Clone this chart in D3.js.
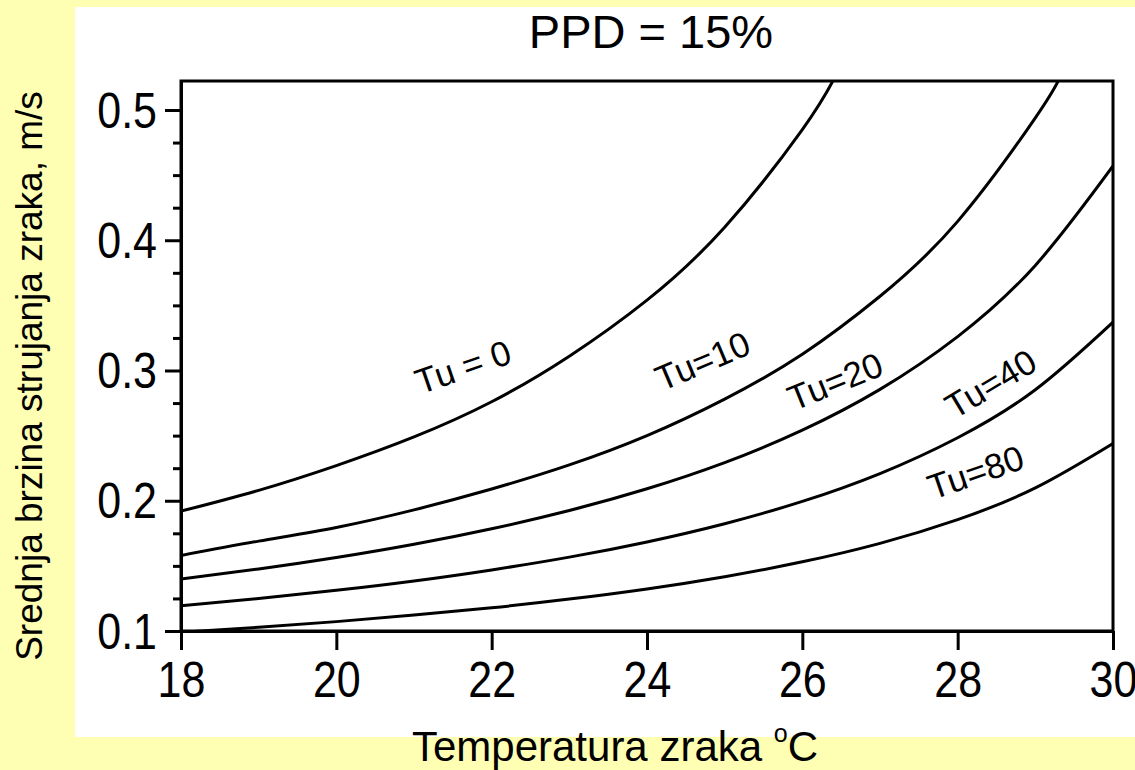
<!DOCTYPE html>
<html>
<head>
<meta charset="utf-8">
<script src="https://cdn.jsdelivr.net/npm/d3@7"></script>
<style>
  html, body { margin: 0; padding: 0; background: #FFFFB4; }
  svg { display: block; }
  text { font-family: "Liberation Sans", Arial, sans-serif; fill: #000; }
  .axis path, .axis line { stroke: #000; stroke-width: 3; }
  .curve { fill: none; stroke: #000; stroke-width: 3; stroke-linejoin: round; }
</style>
</head>
<body>
<svg id="chart" width="1135" height="770"></svg>
<script>
// Draught-rating limit curves (PPD = 15 %): mean air speed vs. air temperature
// for several turbulence intensities Tu (%).
const chartTitle = "PPD = 15%";
const xTitle = "Temperatura zraka ";
const yTitle = "Srednja brzina strujanja zraka, m/s";

const xTicks = [18, 20, 22, 24, 26, 28, 30];
const yTicks = [0.1, 0.2, 0.3, 0.4, 0.5];
const yMinorTicks = [0.125, 0.15, 0.175, 0.225, 0.25, 0.275, 0.325, 0.35, 0.375, 0.425, 0.45, 0.475, 0.5];

const tempsTu0  = [18, 19, 20, 21, 22, 23, 24, 25, 26, 26.4];
const speedTu0  = [0.192, 0.208, 0.227, 0.249, 0.276, 0.311, 0.354, 0.410, 0.485, 0.523];

const tempsTu10 = [18, 19, 20, 21, 22, 23, 24, 25, 26, 27, 28, 29, 29.3];
const speedTu10 = [0.158, 0.169, 0.1795, 0.193, 0.209, 0.2275, 0.250, 0.278, 0.3125, 0.357, 0.4145, 0.494, 0.523];

const tempsFull = [18, 19, 20, 21, 22, 23, 24, 25, 26, 27, 28, 29, 30];
const speedTu20 = [0.140, 0.1476, 0.1564, 0.1666, 0.1785, 0.1925, 0.2092, 0.2293, 0.2542, 0.2855, 0.326, 0.3807, 0.457];
const speedTu40 = [0.1193, 0.1249, 0.1312, 0.1384, 0.1469, 0.1567, 0.1684, 0.1824, 0.1995, 0.2209, 0.2484, 0.2852, 0.3371];
const speedTu80 = [0.0991, 0.1029, 0.1072, 0.1122, 0.1178, 0.1245, 0.1323, 0.1417, 0.1531, 0.1673, 0.1855, 0.2099, 0.244];

// curve labels: text, anchor (temperature, speed), tilt in degrees
const labelTexts  = ["Tu = 0", "Tu=10", "Tu=20", "Tu=40", "Tu=80"];
const labelTemps  = [21.08, 24.19, 25.89, 27.96, 27.68];
const labelSpeeds = [0.2815, 0.2838, 0.2688, 0.2622, 0.2006];
const labelAngles = [19, 23, 22, 31, 19];

const series = [
  { t: tempsTu0,  v: speedTu0 },
  { t: tempsTu10, v: speedTu10 },
  { t: tempsFull, v: speedTu20 },
  { t: tempsFull, v: speedTu40 },
  { t: tempsFull, v: speedTu80 }
];

const svg = d3.select("#chart");

// white panel
svg.append("rect").attr("x", 75).attr("y", 7).attr("width", 1060).attr("height", 730).attr("fill", "#fff");

const plot = { left: 181, right: 1113, top: 81, bottom: 631 };
const x = d3.scaleLinear().domain([18, 30]).range([plot.left, plot.right]);
const yTopValue = 0.1 + 0.4 * (plot.bottom - plot.top) / 521;
const y = d3.scaleLinear().domain([0.1, yTopValue]).range([plot.bottom, plot.top]);

svg.append("defs").append("clipPath").attr("id", "plotClip")
  .append("rect").attr("x", plot.left).attr("y", plot.top)
  .attr("width", plot.right - plot.left).attr("height", plot.bottom - plot.top);

// curves
const line = d3.line().x(d => x(d[0])).y(d => y(d[1])).curve(d3.curveNatural);
svg.append("g").attr("clip-path", "url(#plotClip)")
  .selectAll("path").data(series).join("path")
  .attr("class", "curve")
  .attr("d", s => line(s.t.map((t, i) => [t, s.v[i]])));

// frame
svg.append("rect").attr("x", plot.left).attr("y", plot.top)
  .attr("width", plot.right - plot.left).attr("height", plot.bottom - plot.top)
  .attr("fill", "none").attr("stroke", "#000").attr("stroke-width", 3);

const labelScale = 0.86;

// x axis
const gx = svg.append("g").attr("class", "axis").attr("transform", `translate(0,${plot.bottom})`)
  .call(d3.axisBottom(x).tickValues(xTicks).tickSize(19).tickSizeOuter(0).tickFormat(d3.format("d")));
gx.selectAll("text")
  .attr("dy", null).attr("y", 66)
  .attr("transform", `scale(${labelScale},1)`)
  .style("font-size", "50px");

// y axis: minor and major ticks
svg.append("g").attr("class", "axis").attr("transform", `translate(${plot.left},0)`)
  .call(d3.axisLeft(y).tickValues(yMinorTicks).tickSize(8).tickSizeOuter(0).tickFormat(""));
const gy = svg.append("g").attr("class", "axis").attr("transform", `translate(${plot.left},0)`)
  .call(d3.axisLeft(y).tickValues(yTicks).tickSize(16).tickSizeOuter(0).tickFormat(d3.format(".1f")));
gy.selectAll("text")
  .attr("dy", null).attr("y", 17)
  .attr("x", -24 / labelScale)
  .attr("transform", `scale(${labelScale},1)`)
  .style("font-size", "50px");

// curve labels
svg.append("g").selectAll("text").data(labelTexts).join("text")
  .attr("transform", (d, i) => `translate(${x(labelTemps[i])},${y(labelSpeeds[i])}) rotate(${-labelAngles[i]})`)
  .style("font-size", "35px")
  .text(d => d);

// title
svg.append("text").attr("x", 651).attr("y", 48).attr("text-anchor", "middle")
  .style("font-size", "47px").text(chartTitle);

// x axis title with superscript degree mark
const xt = svg.append("text").attr("x", 615).attr("y", 761).attr("text-anchor", "middle")
  .style("font-size", "42px");
xt.append("tspan").text(xTitle);
xt.append("tspan").attr("dy", -19).style("font-size", "25px").text("o");
xt.append("tspan").attr("dy", 19).text("C");

// y axis title
svg.append("text").attr("transform", "translate(42,376) rotate(-90)").attr("text-anchor", "middle")
  .style("font-size", "37px").text(yTitle);
</script>
</body>
</html>
